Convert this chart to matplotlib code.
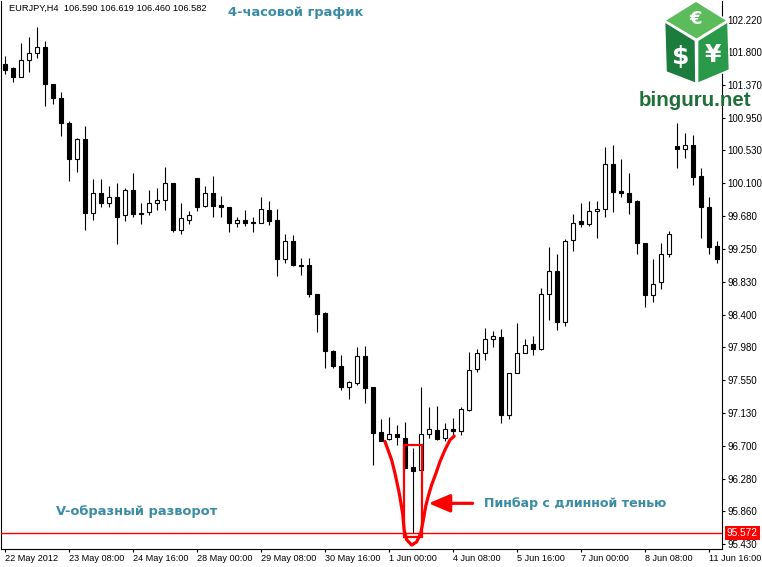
import matplotlib
matplotlib.use('Agg')
import matplotlib.pyplot as plt
from matplotlib.patches import Rectangle, Polygon
from matplotlib import transforms

# ---------------- data ----------------
opens = [101.64, 101.59, 101.48, 101.69, 101.79, 101.86, 101.39, 101.21, 100.88, 100.41,
         100.67, 99.71, 99.98, 99.85, 99.92, 99.69, 100.01, 99.71, 99.73, 99.84,
         99.89, 100.10, 99.50, 99.63, 100.17, 99.81, 99.97, 99.82, 99.80, 99.59,
         99.63, 99.59, 99.59, 99.76, 99.63, 99.12, 99.35, 99.05, 99.04, 98.67,
         98.42, 97.93, 97.74, 97.47, 97.52, 97.86, 97.47, 96.88, 96.79, 96.86,
         96.81, 96.43, 96.39, 96.86, 96.91, 96.80, 96.92, 96.89, 97.17, 97.70,
         97.90, 98.09, 98.11, 97.10, 97.65, 97.90, 98.02, 97.96, 98.67, 98.97,
         98.30, 99.37, 99.61, 99.57, 99.74, 99.77, 100.35, 100.00, 99.98, 99.87,
         99.33, 98.66, 98.82, 99.19, 100.58, 100.54, 100.60, 100.19, 99.80, 99.29]
highs = [101.75, 101.61, 101.92, 102.00, 102.12, 101.94, 101.39, 101.28, 100.91, 100.69,
         100.84, 100.16, 100.15, 100.07, 100.10, 100.04, 100.24, 99.85, 100.01, 100.04,
         100.31, 100.10, 99.84, 99.74, 100.17, 100.06, 100.20, 99.94, 99.80, 99.67,
         99.76, 99.66, 99.92, 99.87, 99.77, 99.44, 99.43, 99.14, 99.14, 98.67,
         98.44, 97.95, 97.88, 97.54, 97.98, 98.00, 97.47, 97.05, 97.08, 96.97,
         97.01, 96.68, 97.47, 97.21, 97.22, 97.00, 97.06, 97.20, 97.92, 97.96,
         98.23, 98.19, 98.22, 97.65, 98.29, 98.08, 98.12, 98.75, 99.28, 99.18,
         99.38, 99.70, 99.84, 99.87, 99.87, 100.57, 100.60, 100.41, 100.24, 99.88,
         99.33, 99.12, 99.33, 99.48, 100.88, 100.75, 100.72, 100.30, 99.92, 99.35]
lows = [101.52, 101.41, 101.47, 101.54, 101.72, 101.10, 101.13, 100.71, 100.13, 100.25,
        99.49, 99.62, 99.79, 99.80, 99.32, 99.61, 99.66, 99.58, 99.69, 99.76,
        99.76, 99.47, 99.45, 99.58, 99.74, 99.79, 99.67, 99.67, 99.47, 99.54,
        99.55, 99.47, 99.59, 99.56, 98.90, 99.07, 99.03, 98.91, 98.63, 98.18,
        97.71, 97.71, 97.42, 97.31, 97.49, 97.26, 96.45, 96.77, 96.78, 96.72,
        96.42, 95.572, 96.39, 96.80, 96.78, 96.76, 96.82, 96.84, 97.16, 97.66,
        97.82, 97.98, 97.00, 97.05, 97.65, 97.90, 97.88, 97.94, 98.33, 98.20,
        98.25, 99.23, 99.53, 99.55, 99.39, 99.66, 99.73, 99.92, 99.70, 99.19,
        98.50, 98.57, 98.73, 99.15, 100.30, 100.43, 100.08, 99.39, 99.19, 99.07]
closes = [101.57, 101.48, 101.70, 101.79, 101.86, 101.39, 101.20, 100.88, 100.41, 100.67,
          99.71, 99.98, 99.85, 99.92, 99.66, 100.01, 99.70, 99.70, 99.85, 99.88,
          100.10, 99.49, 99.65, 99.69, 99.80, 99.97, 99.81, 99.79, 99.59, 99.63,
          99.59, 99.60, 99.77, 99.61, 99.12, 99.35, 99.04, 99.03, 98.67, 98.41,
          97.93, 97.74, 97.47, 97.53, 97.86, 97.45, 96.87, 96.77, 96.86, 96.82,
          96.42, 96.38, 96.86, 96.92, 96.79, 96.92, 96.89, 97.18, 97.69, 97.90,
          98.09, 98.13, 97.10, 97.65, 97.90, 98.01, 97.96, 98.67, 98.97, 98.30,
          99.36, 99.59, 99.57, 99.74, 99.77, 100.35, 99.99, 99.98, 99.86, 99.33,
          98.66, 98.80, 99.19, 99.44, 100.54, 100.60, 100.18, 99.79, 99.28, 99.12]

date_tick_bars = [0, 8, 16, 24, 32, 40, 48, 56, 64, 72, 80, 88]
date_labels = ['22 May 2012', '23 May 08:00', '24 May 16:00', '28 May 00:00',
               '29 May 08:00', '30 May 16:00', '1 Jun 00:00', '4 Jun 08:00',
               '5 Jun 16:00', '7 Jun 00:00', '8 Jun 08:00', '11 Jun 16:00']
price_ticks = [102.220, 101.800, 101.370, 100.950, 100.530, 100.100, 99.680, 99.250,
               98.830, 98.400, 97.980, 97.550, 97.130, 96.700, 96.280, 95.860, 95.430]

low_level = 95.572
header = 'EURJPY,H4  106.590 106.619 106.460 106.582'

# hand-drawn V (bar index, price)
v_x = [47.5, 48.34, 48.75, 49.29, 49.71, 49.91, 50.21, 50.84, 51.46, 51.96,
       52.29, 52.59, 52.91, 53.34, 53.88, 54.38, 55.0, 55.63, 56.16]
v_y = [96.76, 96.52, 96.35, 96.09, 95.83, 95.61, 95.49, 95.42, 95.46, 95.57,
       95.74, 95.92, 96.05, 96.20, 96.35, 96.50, 96.65, 96.78, 96.83]
box_bars = (49.9, 52.15)
box_prices = (95.53, 96.72)
arrow_tail = (58.46, 95.96)
arrow_head = (52.95, 95.96)

# ---------------- figure ----------------
W, H = 762, 567
fig = plt.figure(figsize=(W / 100, H / 100), dpi=100)
ax_l, ax_r, ax_t, ax_b = 1, 721.7, 0.5, 549.3
ax = fig.add_axes([ax_l / W, 1 - ax_b / H, (ax_r - ax_l) / W, (ax_b - ax_t) / H])

lab_font = 'Liberation Sans'
teal = '#3a8ca5'

bw = 0.58
for i, (o, h, l, c) in enumerate(zip(opens, highs, lows, closes)):
    ax.plot([i, i], [l, h], color='black', lw=0.8, zorder=2, solid_capstyle='butt')
    bottom = min(o, c)
    height = max(abs(c - o), 0.012)
    fc = 'black' if c < o else 'white'
    ax.add_patch(Rectangle((i - bw / 2, bottom), bw, height, facecolor=fc,
                           edgecolor='black', lw=0.8, zorder=3))

ax.set_xlim(-0.5, 89.6)
ax.set_ylim(95.365, 102.466)

# red horizontal line
ax.axhline(low_level, color='#ff0000', lw=1.0, zorder=4)
# red box around pinbar
ax.add_patch(Rectangle((box_bars[0], box_prices[0]), box_bars[1] - box_bars[0],
                       box_prices[1] - box_prices[0], fill=False,
                       edgecolor='#ff0000', lw=1.6, zorder=5))
# V curve
ax.plot(v_x, v_y, color='#ff0000', lw=2.3, zorder=5, solid_capstyle='round',
        solid_joinstyle='round')
# arrow
ax.annotate('', xy=arrow_head, xytext=arrow_tail,
            arrowprops=dict(arrowstyle='-|>,head_length=1.3,head_width=0.55',
                            color='#ff0000', lw=2.3, mutation_scale=10,
                            shrinkA=0, shrinkB=0), zorder=6)

# axes styling
for s in ax.spines.values():
    s.set_color('black')
    s.set_linewidth(0.8)
ax.spines['top'].set_visible(False)

ax.yaxis.tick_right()
ax.set_yticks(price_ticks)
ax.set_yticklabels([f'{v:.3f}' for v in price_ticks])
ax.tick_params(axis='y', direction='out', length=2.5, width=0.8, pad=1.5,
               labelsize=7, colors='black')
ax.set_xticks(date_tick_bars)
ax.set_xticklabels(date_labels)
ax.tick_params(axis='x', direction='out', length=2.5, width=0.8, pad=1.0,
               labelsize=6.6, colors='black')
for lab in ax.get_xticklabels():
    lab.set_horizontalalignment('left')
    lab.set_fontfamily(lab_font)
for lab in ax.get_yticklabels():
    lab.set_fontfamily(lab_font)

# red price label on the axis
trans = transforms.blended_transform_factory(ax.transAxes, ax.transData)
ax.text(1.0 + 5 / (ax_r - ax_l), low_level, f'{low_level:.3f}', transform=trans,
        ha='left', va='center', color='white', fontsize=7.3, family=lab_font,
        bbox=dict(boxstyle='square,pad=0.2', facecolor='#ff0000', edgecolor='none'),
        zorder=10, clip_on=False)

# texts
ax.text(0.55, 102.36, header, ha='left', va='center', fontsize=6.7, family=lab_font,
        color='black', zorder=7)
ax.text(27.9, 102.31, '4-часовой график', ha='left', va='center', fontsize=9.4,
        fontweight='bold', color=teal, family='DejaVu Sans', zorder=7)
ax.text(6.4, 95.86, 'V-образный разворот', ha='left', va='center', fontsize=9.4,
        fontweight='bold', color=teal, family='DejaVu Sans', zorder=7)
ax.text(59.9, 95.96, 'Пинбар с длинной тенью', ha='left', va='center', fontsize=9.1,
        fontweight='bold', color=teal, family='DejaVu Sans', zorder=7)

# ---------------- logo overlay (pixel space) ----------------
lg = fig.add_axes([0, 0, 1, 1], zorder=20)
lg.set_xlim(0, W)
lg.set_ylim(H, 0)
lg.axis('off')
lg.patch.set_alpha(0)
top_face = [(696, 1), (727.5, 20.5), (696.5, 39.5), (664.5, 20.5)]
left_face = [(664.5, 21.5), (695.5, 40.5), (696, 83.5), (666, 72)]
right_face = [(697.5, 40.5), (728, 21.5), (729.5, 70), (697.5, 83.5)]
lg.add_patch(Polygon(top_face, closed=True, facecolor='#5cbb5a', edgecolor='white', lw=1.2,
                     joinstyle='round'))
lg.add_patch(Polygon(left_face, closed=True, facecolor='#1c7c3d', edgecolor='white', lw=1.2,
                     joinstyle='round'))
lg.add_patch(Polygon(right_face, closed=True, facecolor='#2a9a4a', edgecolor='white', lw=1.2,
                     joinstyle='round'))
lg.text(696, 19, '€', color='white', fontsize=13, fontweight='bold', ha='center',
        va='center', family='DejaVu Sans')
lg.text(681, 57, '$', color='white', fontsize=18, fontweight='bold', ha='center',
        va='center', family='DejaVu Sans')
lg.text(713, 55, '¥', color='white', fontsize=17, fontweight='bold', ha='center',
        va='center', family='DejaVu Sans')
lg.text(639, 105.5, 'binguru.net', color='#1f6f3a', fontsize=14.8, fontweight='bold',
        ha='left', va='baseline', family='Liberation Sans')

fig.savefig('out.png', dpi=100, facecolor='white')
